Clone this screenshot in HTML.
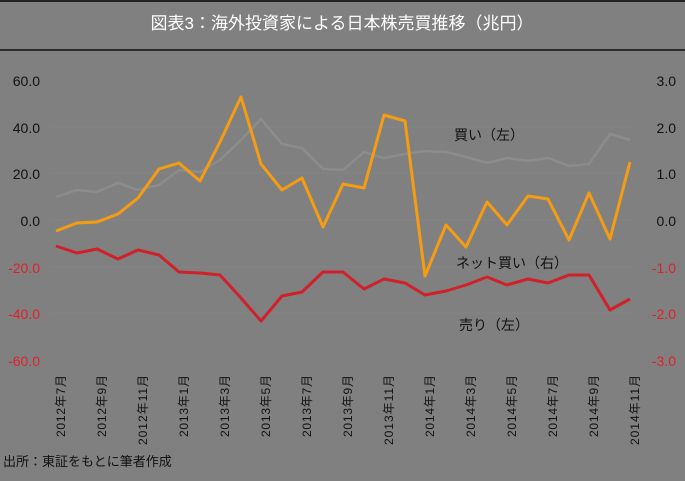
<!DOCTYPE html>
<html><head><meta charset="utf-8"><style>
body{margin:0;background:#808080;}
svg text{font-family:"Liberation Sans","Noto Sans CJK JP",sans-serif;}
</style></head><body>
<svg width="685" height="476" viewBox="0 0 685 476" xmlns="http://www.w3.org/2000/svg">
<rect width="685" height="476" fill="#808080"/>
<line x1="0" y1="1" x2="685" y2="1" stroke="#222" stroke-width="2"/>
<text x="342" y="29" font-size="17" fill="#fff" text-anchor="middle">図表3：海外投資家による日本株売買推移（兆円）</text>
<line x1="0" y1="50" x2="685" y2="50" stroke="#111" stroke-width="1.5"/>
<g stroke="#858585" stroke-width="1">
<line x1="50" y1="127" x2="635" y2="127"/><line x1="50" y1="173" x2="635" y2="173"/>
<line x1="50" y1="220" x2="635" y2="220"/><line x1="50" y1="267" x2="635" y2="267"/>
<line x1="50" y1="313" x2="635" y2="313"/>
</g>
<g font-size="14" text-anchor="end">
<text x="40" y="86" fill="#111">60.0</text><text x="40" y="133" fill="#111">40.0</text>
<text x="40" y="179" fill="#111">20.0</text><text x="40" y="226" fill="#111">0.0</text>
<text x="40" y="273" fill="#e0202a">-20.0</text><text x="40" y="319" fill="#e0202a">-40.0</text>
<text x="40" y="366" fill="#e0202a">-60.0</text>
<text x="676" y="86" fill="#111">3.0</text><text x="676" y="133" fill="#111">2.0</text>
<text x="676" y="179" fill="#111">1.0</text><text x="676" y="226" fill="#111">0.0</text>
<text x="676" y="273" fill="#e0202a">-1.0</text><text x="676" y="319" fill="#e0202a">-2.0</text>
<text x="676" y="366" fill="#e0202a">-3.0</text>
</g>
<polyline fill="none" stroke="#8c8c8c" stroke-width="2.5" points="56,197 77,190 97,192 118,183 138,190 159,185 179,170 200,172 220,160 241,140 261,119 282,144 302,148 323,169 343,170 364,152 384,158 405,154 425,151 446,152 466,157 487,163 507,158 528,161 548,158 569,166 589,164 610,134 630,140"/>
<polyline fill="none" stroke="#f59c12" stroke-width="3" stroke-linejoin="round" points="56,231 77,223 97,222 118,214 138,198 159,169 179,163 200,181 220,142 241,97 261,164 282,190 302,178 323,227 343,184 364,188 384,115 405,121 425,276 446,225 466,247 487,202 507,225 528,196 548,199 569,240 589,193 610,239 630,162"/>
<polyline fill="none" stroke="#d0202a" stroke-width="3" stroke-linejoin="round" points="56,246 77,253 97,249 118,259 138,250 159,255 179,272 200,273 220,275 241,298 261,321 282,296 302,292 323,272 343,272 364,289 384,279 405,283 425,295 446,291 466,285 487,277 507,285 528,279 548,283 569,275 589,275 610,310 630,299"/>
<g font-size="14" fill="#111">
<text x="454" y="140">買い（左）</text>
<text x="456" y="268">ネット買い（右）</text>
<text x="459" y="330">売り（左）</text>
</g>
<g font-size="12" fill="#111" lengthAdjust="spacingAndGlyphs">
<text transform="translate(65,437) rotate(-90)" textLength="62">2012年7月</text>
<text transform="translate(106,437) rotate(-90)" textLength="62">2012年9月</text>
<text transform="translate(147,445) rotate(-90)" textLength="70">2012年11月</text>
<text transform="translate(188,437) rotate(-90)" textLength="62">2013年1月</text>
<text transform="translate(229,437) rotate(-90)" textLength="62">2013年3月</text>
<text transform="translate(270,437) rotate(-90)" textLength="62">2013年5月</text>
<text transform="translate(311,437) rotate(-90)" textLength="62">2013年7月</text>
<text transform="translate(352,437) rotate(-90)" textLength="62">2013年9月</text>
<text transform="translate(393,445) rotate(-90)" textLength="70">2013年11月</text>
<text transform="translate(434,437) rotate(-90)" textLength="62">2014年1月</text>
<text transform="translate(475,437) rotate(-90)" textLength="62">2014年3月</text>
<text transform="translate(516,437) rotate(-90)" textLength="62">2014年5月</text>
<text transform="translate(557,437) rotate(-90)" textLength="62">2014年7月</text>
<text transform="translate(598,437) rotate(-90)" textLength="62">2014年9月</text>
<text transform="translate(639,445) rotate(-90)" textLength="70">2014年11月</text>
</g>
<text x="3" y="466" font-size="13" fill="#111">出所：東証をもとに筆者作成</text>
</svg>
</body></html>
